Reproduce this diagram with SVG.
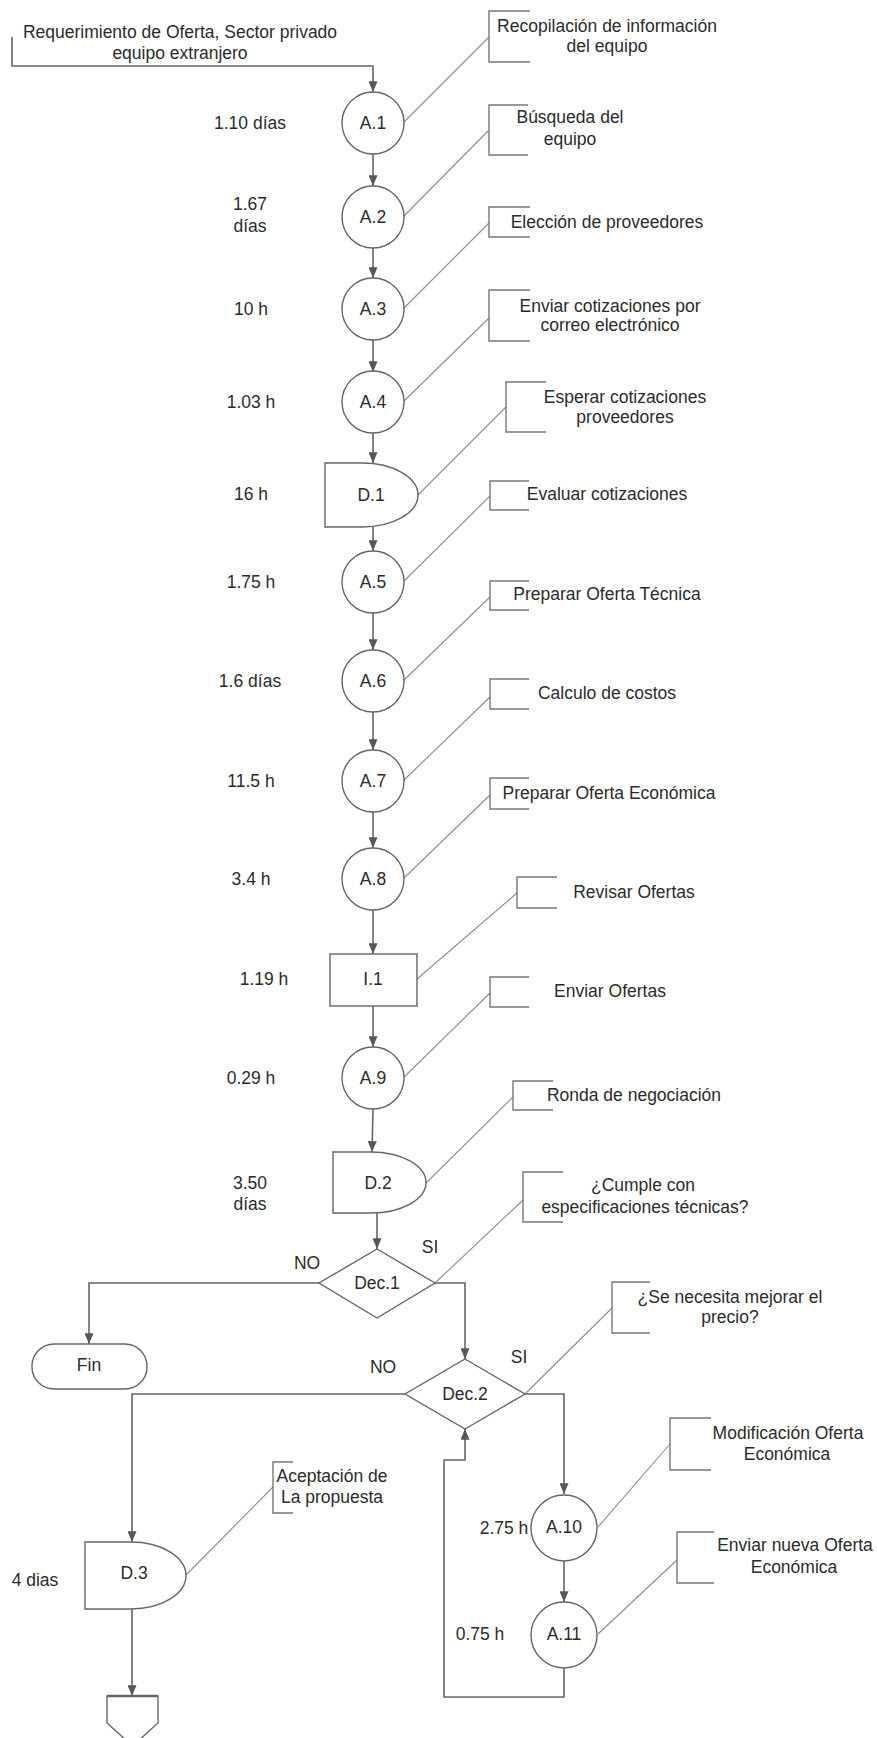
<svg xmlns="http://www.w3.org/2000/svg" width="877" height="1738" viewBox="0 0 877 1738">
<defs>
<style>
.conn{fill:none;stroke:#666;stroke-width:1.6}
.shape{fill:#fff;stroke:#666;stroke-width:1.4}
.call{fill:none;stroke:#8c8c8c;stroke-width:1.1}
.br{fill:none;stroke:#777;stroke-width:1.4}
text{font-family:"Liberation Sans",Arial,sans-serif;font-size:17.5px;fill:#2b2b2b;text-anchor:middle}
</style>
<marker id="arr" viewBox="0 0 12 10" refX="12" refY="5" markerWidth="12" markerHeight="9" markerUnits="userSpaceOnUse" orient="auto">
<path d="M0,0 L12,5 L0,10 z" fill="#565a4c"/>
</marker>
</defs>
<rect width="877" height="1738" fill="#fff"/>

<g id="connectors">
<path class="conn" d="M12,37 V66 H373 V92" marker-end="url(#arr)"/>
<path class="conn" d="M373,154 V186" marker-end="url(#arr)"/>
<path class="conn" d="M373,248 V278" marker-end="url(#arr)"/>
<path class="conn" d="M373,340 V372" marker-end="url(#arr)"/>
<path class="conn" d="M373,433 V463" marker-end="url(#arr)"/>
<path class="conn" d="M373,527 V551" marker-end="url(#arr)"/>
<path class="conn" d="M373,613 V650" marker-end="url(#arr)"/>
<path class="conn" d="M373,712 V750" marker-end="url(#arr)"/>
<path class="conn" d="M373,812 V848" marker-end="url(#arr)"/>
<path class="conn" d="M373,910 V954" marker-end="url(#arr)"/>
<path class="conn" d="M373,1006 V1047" marker-end="url(#arr)"/>
<path class="conn" d="M373,1109 L372,1152" marker-end="url(#arr)"/>
<path class="conn" d="M377,1213 V1249" marker-end="url(#arr)"/>
<path class="conn" d="M319,1283 H89 V1344" marker-end="url(#arr)"/>
<path class="conn" d="M435,1283 H465 V1359" marker-end="url(#arr)"/>
<path class="conn" d="M405,1394 H132 V1542" marker-end="url(#arr)"/>
<path class="conn" d="M525,1394 H564 V1494" marker-end="url(#arr)"/>
<path class="conn" d="M564,1561 V1602" marker-end="url(#arr)"/>
<path class="conn" d="M564,1668 V1697 H444 V1460 H465 V1429" marker-end="url(#arr)"/>
<path class="conn" d="M132,1609 V1696" marker-end="url(#arr)"/>
</g>

<g id="callouts">
<path class="call" d="M403,123 L489,37"/><path class="br" d="M530,11 H489 V62 H530"/>
<path class="call" d="M403,217 L489,130"/><path class="br" d="M528,105 H489 V155 H528"/>
<path class="call" d="M403,309 L489,223"/><path class="br" d="M530,207 H489 V237 H530"/>
<path class="call" d="M403,402 L489,318"/><path class="br" d="M530,290 H489 V341 H530"/>
<path class="call" d="M418,495 L506,407"/><path class="br" d="M546,382 H506 V432 H546"/>
<path class="call" d="M403,582 L490,496"/><path class="br" d="M529,481 H490 V510 H529"/>
<path class="call" d="M403,681 L490,597"/><path class="br" d="M529,581 H490 V610 H529"/>
<path class="call" d="M403,781 L490,697"/><path class="br" d="M529,679 H490 V709 H529"/>
<path class="call" d="M403,879 L490,795"/><path class="br" d="M529,778 H490 V809 H529"/>
<path class="call" d="M417,979 L517,893"/><path class="br" d="M557,877 H517 V908 H557"/>
<path class="call" d="M403,1078 L490,993"/><path class="br" d="M529,977 H490 V1007 H529"/>
<path class="call" d="M426,1183 L513,1097"/><path class="br" d="M553,1081 H513 V1110 H553"/>
<path class="call" d="M435,1283 L523,1200"/><path class="br" d="M563,1172 H523 V1222 H563"/>
<path class="call" d="M525,1394 L612,1308"/><path class="br" d="M650,1282 H612 V1333 H650"/>
<path class="call" d="M598,1527 L670,1444"/><path class="br" d="M711,1418 H670 V1470 H711"/>
<path class="call" d="M598,1634 L677,1560"/><path class="br" d="M714,1532 H677 V1583 H714"/>
<path class="call" d="M186,1575 L273,1487"/><path class="br" d="M293,1462 H273 V1513 H293"/>
</g>

<g id="callout-texts">
<text x="180" y="38">Requerimiento de Oferta, Sector privado</text>
<text x="180" y="59">equipo extranjero</text>
<text x="607" y="32">Recopilación de información</text>
<text x="607" y="52">del equipo</text>
<text x="570" y="123">Búsqueda del</text>
<text x="570" y="145">equipo</text>
<text x="607" y="228">Elección de proveedores</text>
<text x="610" y="312">Enviar cotizaciones por</text>
<text x="610" y="331">correo electrónico</text>
<text x="625" y="403">Esperar cotizaciones</text>
<text x="625" y="423">proveedores</text>
<text x="607" y="500">Evaluar cotizaciones</text>
<text x="607" y="600">Preparar Oferta Técnica</text>
<text x="607" y="699">Calculo de costos</text>
<text x="609" y="799">Preparar Oferta Económica</text>
<text x="634" y="898">Revisar Ofertas</text>
<text x="610" y="997">Enviar Ofertas</text>
<text x="634" y="1101">Ronda de negociación</text>
<text x="643" y="1191">¿Cumple con</text>
<text x="645" y="1213">especificaciones técnicas?</text>
<text x="730" y="1303">¿Se necesita mejorar el</text>
<text x="730" y="1323">precio?</text>
<text x="788" y="1439">Modificación Oferta</text>
<text x="787" y="1460">Económica</text>
<text x="795" y="1551">Enviar nueva Oferta</text>
<text x="794" y="1573">Económica</text>
<text x="332" y="1482">Aceptación de</text>
<text x="332" y="1503">La propuesta</text>
</g>

<g id="times">
<text x="250" y="129">1.10 días</text>
<text x="250" y="210">1.67</text>
<text x="250" y="232">días</text>
<text x="251" y="315">10 h</text>
<text x="251" y="408">1.03 h</text>
<text x="251" y="500">16 h</text>
<text x="251" y="588">1.75 h</text>
<text x="250" y="687">1.6 días</text>
<text x="251" y="787">11.5 h</text>
<text x="251" y="885">3.4 h</text>
<text x="264" y="985">1.19 h</text>
<text x="251" y="1084">0.29 h</text>
<text x="250" y="1189">3.50</text>
<text x="250" y="1210">días</text>
<text x="35" y="1586">4 dias</text>
<text x="504" y="1534">2.75 h</text>
<text x="480" y="1640">0.75 h</text>
<text x="307" y="1269">NO</text>
<text x="430" y="1253">SI</text>
<text x="383" y="1373">NO</text>
<text x="519" y="1363">SI</text>
</g>

<g id="A1"><ellipse class="shape" cx="373" cy="123" rx="31" ry="31"/><text x="373" y="129">A.1</text></g>
<g id="A2"><ellipse class="shape" cx="373" cy="217" rx="31" ry="31"/><text x="373" y="223">A.2</text></g>
<g id="A3"><ellipse class="shape" cx="373" cy="309" rx="31" ry="31"/><text x="373" y="315">A.3</text></g>
<g id="A4"><ellipse class="shape" cx="373" cy="402" rx="31" ry="31"/><text x="373" y="408">A.4</text></g>
<g id="D1"><path class="shape" d="M325,463 H362 A56,32 0 0 1 362,527 H325 Z"/><text x="371" y="501">D.1</text></g>
<g id="A5"><ellipse class="shape" cx="373" cy="582" rx="31" ry="31"/><text x="373" y="588">A.5</text></g>
<g id="A6"><ellipse class="shape" cx="373" cy="681" rx="31" ry="31"/><text x="373" y="687">A.6</text></g>
<g id="A7"><ellipse class="shape" cx="373" cy="781" rx="31" ry="31"/><text x="373" y="787">A.7</text></g>
<g id="A8"><ellipse class="shape" cx="373" cy="879" rx="31" ry="31"/><text x="373" y="885">A.8</text></g>
<g id="I1"><rect class="shape" x="330" y="954" width="87" height="52"/><text x="373" y="985">I.1</text></g>
<g id="A9"><ellipse class="shape" cx="373" cy="1078" rx="31" ry="31"/><text x="373" y="1084">A.9</text></g>
<g id="D2"><path class="shape" d="M333,1152 H371 A55,30.5 0 0 1 371,1213 H333 Z"/><text x="378" y="1189">D.2</text></g>
<g id="Dec1"><path class="shape" d="M377,1249 L435,1283 L377,1318 L319,1283 Z"/><text x="377" y="1289">Dec.1</text></g>
<g id="Fin"><rect class="shape" x="32" y="1344" width="115" height="45" rx="22" ry="22"/><text x="89" y="1371">Fin</text></g>
<g id="Dec2"><path class="shape" d="M465,1359 L525,1394 L465,1429 L405,1394 Z"/><text x="465" y="1400">Dec.2</text></g>
<g id="A10"><ellipse class="shape" cx="564" cy="1528" rx="33" ry="33"/><text x="564" y="1533">A.10</text></g>
<g id="A11"><ellipse class="shape" cx="564" cy="1635" rx="33" ry="33"/><text x="564" y="1640">A.11</text></g>
<g id="D3"><path class="shape" d="M85,1542 H131 A55,33.5 0 0 1 131,1609 H85 Z"/><text x="134" y="1579">D.3</text></g>
<g id="Storage"><path class="shape" d="M107,1696 H158 V1723 L132.5,1746 L107,1723 Z"/><path d="M107,1696 H158" stroke="#666" stroke-width="2.6"/></g>
</svg>
